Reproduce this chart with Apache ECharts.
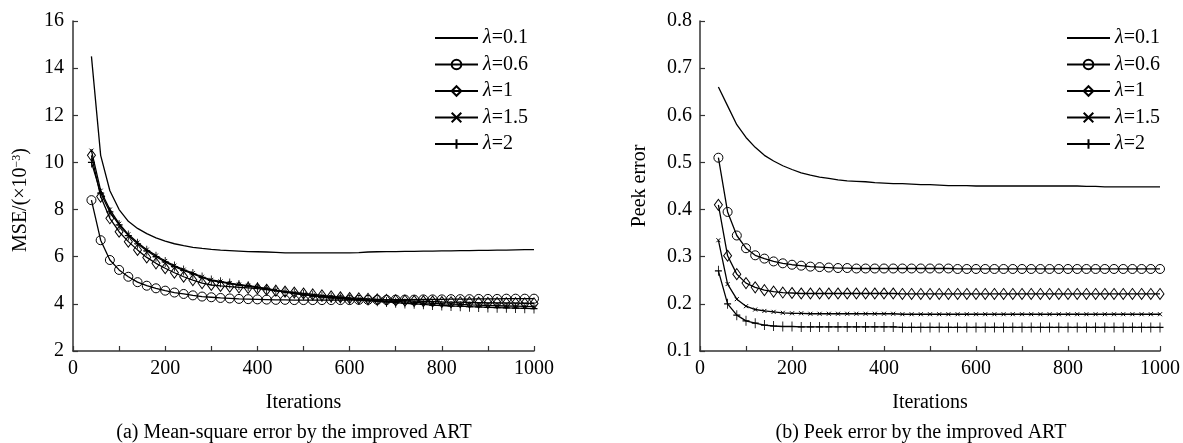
<!DOCTYPE html>
<html><head><meta charset="utf-8">
<script src="https://cdn.jsdelivr.net/npm/echarts@6/dist/echarts.min.js"></script>
<style>html,body{margin:0;padding:0;background:#fff}#c{width:1183px;height:443px}</style>
</head><body><div id="c"></div>
<script>
const iterations = [40,60,80,100,120,140,160,180,200,220,240,260,280,300,320,340,360,380,400,420,440,460,480,500,520,540,560,580,600,620,640,660,680,700,720,740,760,780,800,820,840,860,880,900,920,940,960,980,1000];
const seriesNames = ['λ=0.1','λ=0.6','λ=1','λ=1.5','λ=2'];

// (a) Mean-square error (×10^-3)
const mse01 = [14.5,10.3,8.8,8.0,7.5,7.2,6.98,6.8,6.66,6.55,6.47,6.4,6.35,6.31,6.28,6.26,6.24,6.22,6.21,6.2,6.18,6.16,6.16,6.16,6.16,6.16,6.16,6.16,6.16,6.17,6.2,6.21,6.22,6.22,6.23,6.23,6.24,6.24,6.25,6.25,6.26,6.26,6.27,6.27,6.28,6.28,6.29,6.3,6.3];
const mse06 = [8.4,6.7,5.86,5.44,5.15,4.92,4.77,4.66,4.56,4.48,4.42,4.36,4.31,4.28,4.25,4.23,4.21,4.2,4.19,4.18,4.17,4.17,4.16,4.16,4.16,4.16,4.16,4.16,4.16,4.17,4.17,4.17,4.17,4.18,4.18,4.18,4.19,4.19,4.19,4.2,4.2,4.2,4.21,4.21,4.21,4.22,4.22,4.22,4.22];
const mse1  = [10.3,8.55,7.63,7.06,6.64,6.29,5.97,5.72,5.51,5.32,5.15,5.01,4.88,4.8,4.76,4.73,4.7,4.68,4.65,4.6,4.56,4.52,4.48,4.44,4.4,4.36,4.32,4.28,4.25,4.23,4.21,4.19,4.17,4.15,4.14,4.12,4.11,4.1,4.08,4.07,4.07,4.06,4.05,4.04,4.04,4.03,4.03,4.02,4.02];
const mse15 = [10.5,8.8,8.0,7.4,6.95,6.6,6.3,6.05,5.82,5.62,5.45,5.3,5.15,5.02,4.95,4.88,4.82,4.77,4.72,4.65,4.58,4.52,4.46,4.4,4.36,4.32,4.28,4.25,4.22,4.19,4.16,4.14,4.12,4.1,4.08,4.06,4.04,4.02,4.0,3.99,3.98,3.96,3.95,3.93,3.92,3.91,3.9,3.89,3.88];
const mse2  = [10.0,8.7,7.9,7.35,6.9,6.55,6.25,6.0,5.78,5.58,5.42,5.27,5.12,4.99,4.92,4.86,4.8,4.75,4.7,4.63,4.56,4.5,4.44,4.38,4.34,4.3,4.26,4.23,4.2,4.17,4.14,4.11,4.08,4.05,4.02,4.0,3.98,3.95,3.93,3.91,3.9,3.88,3.87,3.85,3.84,3.83,3.82,3.81,3.8];

// (b) Peek error
const pe01 = [0.66,0.62,0.58,0.553,0.532,0.515,0.503,0.493,0.485,0.478,0.473,0.469,0.466,0.463,0.461,0.46,0.459,0.457,0.456,0.455,0.455,0.454,0.453,0.453,0.452,0.451,0.451,0.451,0.45,0.45,0.45,0.45,0.45,0.45,0.45,0.45,0.45,0.45,0.45,0.45,0.449,0.449,0.448,0.448,0.448,0.448,0.448,0.448,0.448];
const pe06 = [0.51,0.395,0.345,0.318,0.303,0.296,0.29,0.286,0.283,0.281,0.279,0.278,0.277,0.276,0.276,0.275,0.275,0.275,0.275,0.275,0.275,0.275,0.275,0.275,0.275,0.275,0.274,0.274,0.274,0.274,0.274,0.274,0.274,0.274,0.274,0.274,0.274,0.274,0.274,0.274,0.274,0.274,0.274,0.274,0.274,0.274,0.274,0.274,0.274];
const pe1  = [0.41,0.302,0.263,0.244,0.235,0.229,0.226,0.224,0.223,0.222,0.222,0.222,0.222,0.222,0.222,0.222,0.222,0.222,0.222,0.222,0.221,0.221,0.221,0.221,0.221,0.221,0.221,0.221,0.221,0.221,0.221,0.221,0.221,0.221,0.221,0.221,0.221,0.221,0.221,0.221,0.221,0.221,0.221,0.221,0.221,0.221,0.221,0.221,0.221];
const pe15 = [0.335,0.242,0.21,0.195,0.188,0.185,0.183,0.181,0.18,0.18,0.179,0.179,0.179,0.179,0.179,0.179,0.179,0.179,0.179,0.179,0.178,0.178,0.178,0.178,0.178,0.178,0.178,0.178,0.178,0.178,0.178,0.178,0.178,0.178,0.178,0.178,0.178,0.178,0.178,0.178,0.178,0.178,0.178,0.178,0.178,0.178,0.178,0.178,0.178];
const pe2  = [0.27,0.2,0.176,0.164,0.159,0.155,0.153,0.152,0.152,0.151,0.151,0.151,0.151,0.151,0.151,0.151,0.151,0.151,0.151,0.151,0.15,0.15,0.15,0.15,0.15,0.15,0.15,0.15,0.15,0.15,0.15,0.15,0.15,0.15,0.15,0.15,0.15,0.15,0.15,0.15,0.15,0.15,0.15,0.15,0.15,0.15,0.15,0.15,0.15];

const xLabels = [0,200,400,600,800,1000];
const captionA = '(a) Mean-square error by the improved ART';
const captionB = '(b) Peek error by the improved ART';

const FONT = '"Liberation Serif", "Times New Roman", serif';
const INK = '#000';
const AXIS = '#333';

const markers = [
  {symbol:'none', size:0},
  {symbol:'circle', size:9},
  {symbol:'diamond', size:[8,11]},
  {symbol:'path://M0,0L10,10M10,0L0,10', size:4},
  {symbol:'path://M5,0L5,10M0,5L10,5', size:[7,10]}
];

function mkSeries(arrs, idx){
  return arrs.map((arr, k) => ({
    name: seriesNames[k], type:'line', xAxisIndex: idx, yAxisIndex: idx,
    data: iterations.map((x,i)=>[x, arr[i]]),
    symbol: markers[k].symbol, symbolSize: markers[k].size, showSymbol: k>0,
    color: INK,
    lineStyle:{color:INK, width:1.3},
    itemStyle:{color:'transparent', borderColor:INK, borderWidth:1},
    emphasis:{disabled:true}, animation:false, z: 2+k
  }));
}

function xAxis(idx){
  return {
    type:'value', gridIndex: idx, min:0, max:1000, interval:100,
    axisLine:{show:true, lineStyle:{color:AXIS, width:1.5}},
    axisTick:{show:true, inside:true, length:5, lineStyle:{color:AXIS, width:1.2}},
    splitLine:{show:false},
    axisLabel:{fontFamily:FONT, fontSize:20, color:INK, margin:8,
      formatter: v => xLabels.indexOf(v) >= 0 ? String(v) : ''},
    name:'Iterations', nameLocation:'middle', nameGap:42,
    nameTextStyle:{fontFamily:FONT, fontSize:20, color:INK}
  };
}

function legend(left){
  return {
    orient:'vertical', left:left, top:23, itemWidth:43, itemHeight:12, itemGap:6.5,
    data: seriesNames.map((n,k) => k === 0
      ? {name:n, itemStyle:{color:'transparent', borderColor:'transparent', borderWidth:0, opacity:0}}
      : {name:n}),
    selectedMode:false,
    formatter: n => '{i|λ}{n|' + n.slice(1) + '}',
    textStyle:{fontFamily:FONT, fontSize:20, color:INK,
      rich:{i:{fontFamily:FONT, fontSize:20, fontStyle:'italic', color:INK}, n:{fontFamily:FONT, fontSize:20, color:INK}}}
  };
}

const chart = echarts.init(document.getElementById('c'), null, {renderer:'canvas'});
chart.setOption({
  backgroundColor:'#fff',
  animation:false,
  grid:[
    {left:73, top:21, width:461, height:330},
    {left:700, top:21, width:461, height:330}
  ],
  xAxis:[xAxis(0), xAxis(1)],
  yAxis:[
    {type:'value', gridIndex:0, min:2, max:16, interval:2,
     axisLine:{show:true, lineStyle:{color:AXIS, width:1.5}},
     axisTick:{show:true, inside:true, length:5, lineStyle:{color:AXIS, width:1.2}},
     splitLine:{show:false},
     axisLabel:{fontFamily:FONT, fontSize:20, color:INK, margin:9},
     name:'{t|MSE/(×10}{s|−3}{t|)}', nameLocation:'middle', nameGap:42,
     nameTextStyle:{fontFamily:FONT, fontSize:20, color:INK, padding:[0,28,0,0],
       rich:{t:{fontFamily:FONT, fontSize:20, color:INK}, s:{fontFamily:FONT, fontSize:12, color:INK, verticalAlign:'top'}}}},
    {type:'value', gridIndex:1, min:0.1, max:0.8, interval:0.1,
     axisLine:{show:true, lineStyle:{color:AXIS, width:1.5}},
     axisTick:{show:true, inside:true, length:5, lineStyle:{color:AXIS, width:1.2}},
     splitLine:{show:false},
     axisLabel:{fontFamily:FONT, fontSize:20, color:INK, margin:8, formatter: v => v.toFixed(1)},
     name:'Peek error', nameLocation:'middle', nameGap:50,
     nameTextStyle:{fontFamily:FONT, fontSize:20, color:INK}}
  ],
  legend:[legend(429), legend(1061)],
  series: mkSeries([mse01,mse06,mse1,mse15,mse2],0).concat(mkSeries([pe01,pe06,pe1,pe15,pe2],1)),
  graphic:[
    {type:'text', x:294, y:433, style:{text:captionA, font:'20px ' + FONT, fill:INK, align:'center', verticalAlign:'middle', textAlign:'center', textVerticalAlign:'middle'}},
    {type:'text', x:921, y:433, style:{text:captionB, font:'20px ' + FONT, fill:INK, align:'center', verticalAlign:'middle', textAlign:'center', textVerticalAlign:'middle'}}
  ]
});
</script>
</body></html>
